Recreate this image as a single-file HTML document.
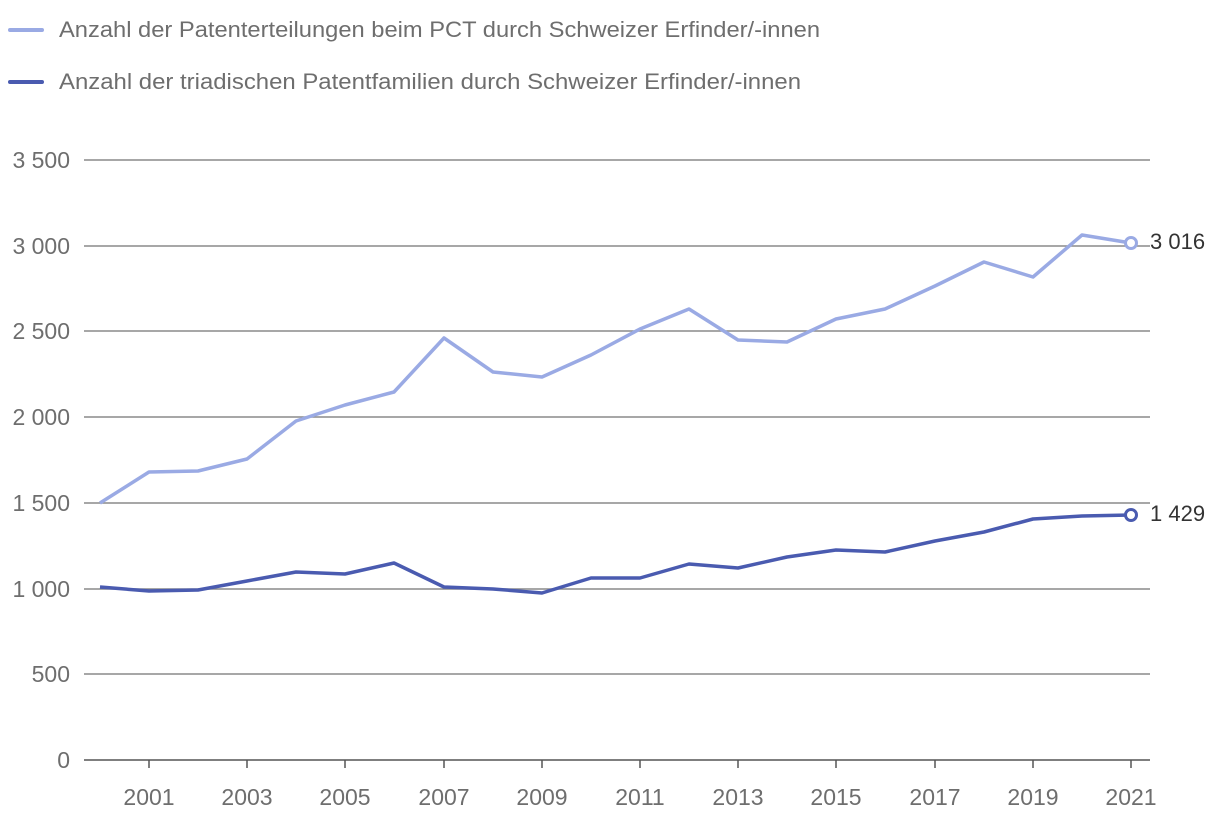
<!DOCTYPE html>
<html><head><meta charset="utf-8"><style>
body{margin:0;background:#fff;}
svg text{font-family:"Liberation Sans",sans-serif;}
</style></head><body>
<svg width="1220" height="820" xmlns="http://www.w3.org/2000/svg">
<line x1="10" y1="30" x2="42" y2="30" stroke="#9aaae4" stroke-width="4" stroke-linecap="round"/>
<text x="59" y="37" font-size="22" fill="#6e6e6e" textLength="761" lengthAdjust="spacingAndGlyphs">Anzahl der Patenterteilungen beim PCT durch Schweizer Erfinder/-innen</text>
<line x1="10" y1="82" x2="42" y2="82" stroke="#4a5bb0" stroke-width="4" stroke-linecap="round"/>
<text x="59" y="89" font-size="22" fill="#6e6e6e" textLength="742" lengthAdjust="spacingAndGlyphs">Anzahl der triadischen Patentfamilien durch Schweizer Erfinder/-innen</text>
<g stroke="#8a8a8a" stroke-width="1.5">
<line x1="84" y1="160" x2="1150" y2="160"/>
<line x1="84" y1="246" x2="1150" y2="246"/>
<line x1="84" y1="331" x2="1150" y2="331"/>
<line x1="84" y1="417" x2="1150" y2="417"/>
<line x1="84" y1="503" x2="1150" y2="503"/>
<line x1="84" y1="589" x2="1150" y2="589"/>
<line x1="84" y1="674" x2="1150" y2="674"/>
</g>
<line x1="84" y1="760" x2="1150" y2="760" stroke="#555" stroke-width="1.5"/>
<g stroke="#555" stroke-width="1.5">
<line x1="149" y1="760" x2="149" y2="768"/><line x1="247" y1="760" x2="247" y2="768"/>
<line x1="345" y1="760" x2="345" y2="768"/><line x1="444" y1="760" x2="444" y2="768"/>
<line x1="542" y1="760" x2="542" y2="768"/><line x1="640" y1="760" x2="640" y2="768"/>
<line x1="738" y1="760" x2="738" y2="768"/><line x1="836" y1="760" x2="836" y2="768"/>
<line x1="935" y1="760" x2="935" y2="768"/><line x1="1033" y1="760" x2="1033" y2="768"/>
<line x1="1131" y1="760" x2="1131" y2="768"/>
</g>
<g font-size="23" fill="#6e6e6e" text-anchor="end">
<text x="70" y="168">3 500</text><text x="70" y="254">3 000</text><text x="70" y="339">2 500</text>
<text x="70" y="425">2 000</text><text x="70" y="511">1 500</text><text x="70" y="597">1 000</text>
<text x="70" y="682">500</text><text x="70" y="768">0</text>
</g>
<g font-size="23" fill="#6e6e6e" text-anchor="middle">
<text x="149" y="805">2001</text><text x="247" y="805">2003</text><text x="345" y="805">2005</text>
<text x="444" y="805">2007</text><text x="542" y="805">2009</text><text x="640" y="805">2011</text>
<text x="738" y="805">2013</text><text x="836" y="805">2015</text><text x="935" y="805">2017</text>
<text x="1033" y="805">2019</text><text x="1131" y="805">2021</text>
</g>
<polyline fill="none" stroke="#9aaae4" stroke-width="3.5" stroke-linejoin="round" points="100,503 149,472 198,471 247,459 296,421 345,405 394,392 444,338 493,372 542,377 591,355 640,329 689,309 738,340 787,342 836,319 885,309 935,286 984,262 1033,277 1082,235 1131,243"/>
<polyline fill="none" stroke="#4a5bb0" stroke-width="3.5" stroke-linejoin="round" points="100,587 149,591 198,590 247,581 296,572 345,574 394,563 444,587 493,589 542,593 591,578 640,578 689,564 738,568 787,557 836,550 885,552 935,541 984,532 1033,519 1082,516 1131,515"/>
<circle cx="1131" cy="243" r="5.5" fill="#fff" stroke="#9aaae4" stroke-width="3"/>
<circle cx="1131" cy="515" r="5.5" fill="#fff" stroke="#4a5bb0" stroke-width="3"/>
<text x="1150" y="249" font-size="22" fill="#333">3 016</text>
<text x="1150" y="521" font-size="22" fill="#333">1 429</text>
</svg>
</body></html>
